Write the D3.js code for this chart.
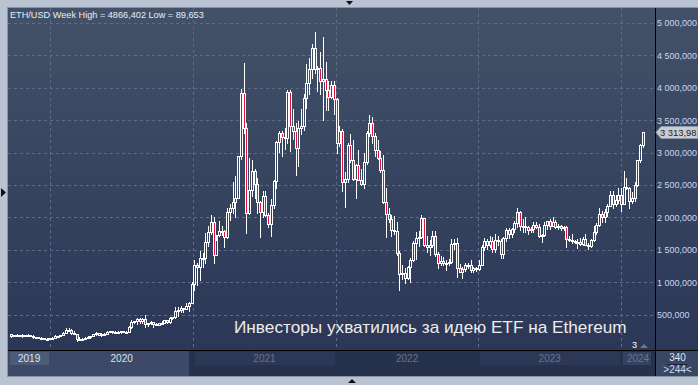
<!DOCTYPE html>
<html>
<head>
<meta charset="utf-8">
<script src="https://cdn.jsdelivr.net/npm/d3@7"></script>
<style>
html, body { margin: 0; padding: 0; background: #b9c3d1; overflow: hidden; }
svg { display: block; font-family: "Liberation Sans", Arial, sans-serif; }
</style>
</head>
<body>
<script>
// weekly candles, [open, high, low, close], week starting Monday 2019-09-23
const weeks2019 = [
    [201,202,152,166],[166,183,163,180],[180,199,177,186],[186,190,168,174],[174,199,158,182],
    [182,192,178,183],[183,194,180,188],[188,190,174,176],[176,178,142,151],[151,157,138,151],
    [151,152,143,145],[145,151,130,132],[132,134,116,127],[127,134,124,130],[130,146,125,143]
];
const weeks2020 = [
    [143,152,135,146],[146,180,143,167],[167,173,152,167],[167,192,165,189],[189,230,185,223],
    [223,288,220,265],[265,287,240,262],[262,278,208,218],[218,253,195,200],[200,201,90,123],
    [123,148,108,131],[131,144,124,131],[131,150,125,143],[143,175,140,158],[158,173,146,170],
    [170,198,166,197],[197,228,188,212],[212,216,182,188],[188,212,176,199],[199,215,194,207],
    [207,245,198,231],[231,252,224,244],[244,250,222,233],[233,243,225,228],[228,248,218,225],
    [225,245,222,240],[240,250,236,239],[239,245,230,236],[236,322,232,311],[311,415,300,385],
    [385,405,365,395],[395,445,355,433],[433,444,374,395],[395,440,375,435],[435,488,310,355],
    [355,378,330,365],[365,395,360,385],[385,385,310,354],[354,375,335,341],[341,378,337,367],
    [367,395,360,370],[370,420,365,409],[409,416,370,383],[383,470,373,454],[454,470,436,460],
    [460,612,449,550],[550,620,480,575],[575,636,546,597],[597,600,535,588],[588,673,583,640],
    [640,690,560,685],[685,1000,680,975]
];
const weeks2021 = [
    [975,1350,880,1260],[1260,1300,950,1230],[1230,1475,1030,1380],[1380,1450,1240,1375],
    [1375,1765,1300,1615],[1615,1875,1560,1780],[1780,2040,1740,1935],[1935,2000,1300,1420],
    [1420,1640,1420,1725],[1725,1950,1710,1790],[1790,1865,1730,1788],[1788,1800,1545,1690],
    [1690,2150,1680,2080],[2080,2200,1960,2140],[2140,2550,2070,2240],[2240,2645,2000,2300],
    [2300,2950,2300,2945],[2945,3980,2900,3920],[3920,4380,3300,3380],[3380,3450,1760,2070],
    [2070,2910,2050,2420],[2420,2890,2330,2710],[2710,2750,2300,2510],[2510,2610,2070,2245],
    [2245,2260,1700,2080],[2080,2400,2000,2325],[2325,2410,2020,2030],[2030,2070,1850,1895],
    [1895,2280,1720,2190],[2190,2580,2150,2560],[2560,3180,2450,3160],[3160,3330,3010,3310],
    [3310,3330,2950,3240],[3240,3375,3050,3225],[3225,3960,3150,3940],[3940,3970,3030,3410],
    [3410,3680,3210,3330],[3330,3460,2650,3065],[3065,3480,2800,3385],[3385,3670,3280,3410],
    [3410,3900,3350,3845],[3845,4375,3690,4080],[4080,4460,3900,4290],[4290,4670,4150,4620],
    [4620,4866,4230,4290],[4290,4340,3950,4300],[4300,4550,3900,4100],[4100,4780,3500,4130],
    [4130,4400,3650,3960],[3960,4100,3650,3860],[3860,4100,3850,4050],[4050,4100,3600,3830]
];
const weeks2022 = [
    [3830,3850,3000,3150],[3150,3410,3100,3330],[3330,3360,2400,2540],[2540,2700,2160,2600],
    [2600,3150,2550,3120],[3120,3280,2850,2880],[2880,3200,2580,2600],[2600,2830,2300,2810],
    [2810,3040,2570,2570],[2570,2740,2500,2520],[2520,3000,2460,2860],[2860,3330,2830,3300],
    [3300,3580,3250,3450],[3450,3550,3150,3260],[3260,3300,2950,3040],[3040,3190,2900,2920],
    [2920,3020,2700,2730],[2730,2960,2220,2230],[2230,2460,1700,2050],[2050,2150,1930,1970],
    [1970,2030,1720,1800],[1800,2020,1750,1790],[1790,1930,1420,1450],[1450,1475,880,1125],
    [1125,1260,1045,1140],[1140,1220,990,1070],[1070,1250,1050,1230],[1230,1370,1000,1350],
    [1350,1640,1330,1600],[1600,1780,1360,1680],[1680,1790,1560,1700],[1700,2030,1680,1985],
    [1985,1990,1560,1575],[1575,1720,1460,1550],[1550,1650,1420,1580],[1580,1790,1540,1720],
    [1720,1790,1410,1440],[1440,1460,1220,1290],[1290,1400,1260,1330],[1330,1390,1270,1300],
    [1300,1340,1190,1300],[1300,1360,1270,1310],[1310,1660,1300,1590],[1590,1670,1510,1600],
    [1600,1680,1080,1220],[1220,1280,1150,1165],[1165,1230,1070,1200],[1200,1300,1170,1260],
    [1260,1290,1220,1270],[1270,1350,1150,1190],[1190,1230,1160,1220],[1220,1230,1180,1200]
];
const weeks2023 = [
    [1200,1350,1190,1260],[1260,1580,1260,1550],[1550,1680,1500,1630],[1630,1660,1520,1570],
    [1570,1710,1550,1630],[1630,1700,1460,1510],[1510,1740,1460,1650],[1650,1720,1580,1640],
    [1640,1670,1370,1440],[1440,1690,1370,1680],[1680,1840,1630,1800],[1800,1830,1680,1750],
    [1750,1840,1700,1820],[1820,1950,1780,1910],[1910,2140,1850,2090],[2090,2100,1800,1870],
    [1870,1980,1780,1870],[1870,2000,1780,1850],[1850,1870,1740,1800],[1800,1850,1780,1820],
    [1820,1930,1770,1890],[1890,1930,1840,1850],[1850,1900,1700,1720],[1720,1750,1620,1730],
    [1730,1930,1710,1890],[1890,1950,1820,1940],[1940,1970,1820,1870],[1870,2010,1860,1930],
    [1930,1960,1840,1850],[1850,1900,1820,1860],[1860,1880,1810,1830],[1830,1870,1800,1850],
    [1850,1870,1550,1670],[1670,1710,1630,1650],[1650,1740,1610,1630],[1630,1650,1600,1620],
    [1620,1660,1530,1620],[1620,1680,1570,1590],[1590,1690,1570,1670],[1670,1750,1570,1580],
    [1580,1600,1520,1560],[1560,1670,1540,1650],[1650,1860,1640,1780],[1780,1910,1750,1890],
    [1890,2140,1870,2050],[2050,2100,1930,2010],[2010,2130,1930,2090],[2090,2200,2020,2180],
    [2180,2400,2180,2350],[2350,2400,2150,2200],[2200,2340,2170,2270],[2270,2450,2220,2350]
];
const weeks2024 = [
    [2350,2460,2100,2200],[2200,2720,2200,2470],[2470,2610,2440,2450],[2450,2470,2150,2250],
    [2250,2390,2220,2300],[2300,2540,2260,2500],[2500,2880,2490,2880],[2880,3130,2860,3110],
    [3110,3320,3080,3313.98]
];

const priceTicks = [500, 1000, 1500, 2000, 2500, 3000, 3500, 4000, 4500, 5000];
const yearLabels = ["2019", "2020", "2021", "2022", "2023", "2024"];
const titleText = "ETH/USD Week High = 4866,402 Low = 89,653";
const noteText = "Инвесторы ухватились за идею ETF на Ethereum";
const lastPrice = 3313.98;

const W = 698, H = 385;
const plot = { left: 8, right: 655, top: 8, bottom: 350 };
const bandBottom = 376;

const ohlc = [].concat(weeks2019, weeks2020, weeks2021, weeks2022, weeks2023, weeks2024);
const dates = d3.timeMonday.range(new Date(2019, 8, 23), new Date(2024, 2, 1));
const candles = ohlc.map((v, i) => ({ date: dates[i], o: v[0], h: v[1], l: v[2], c: v[3] }));

function priceFormat(v) {
    const parts = v.toFixed(3).split(".");
    return parts[0].replace(/\B(?=(\d{3})+(?!\d))/g, " ") + "," + parts[1];
}

// shrink or grow a text so it spans the width seen in the reference
function fitWidth(sel, width) {
    const size = parseFloat(sel.style("font-size"));
    const len = sel.node().getComputedTextLength();
    sel.style("font-size", (size * width / len).toFixed(2) + "px");
}

const x = d3.scaleTime()
    .domain([new Date(2019, 8, 15), new Date(2024, 2, 28)])
    .range([plot.left, plot.right]);
const y = d3.scaleLinear()
    .domain([0, 5000])
    .range([347, 23]);

const svg = d3.select("body").append("svg")
    .attr("width", W)
    .attr("height", H);

const defs = svg.append("defs");
const grad = defs.append("linearGradient")
    .attr("id", "bg")
    .attr("x1", 0).attr("y1", 0).attr("x2", 0).attr("y2", 1);
grad.append("stop").attr("offset", "0%").attr("stop-color", "#435168");
grad.append("stop").attr("offset", "100%").attr("stop-color", "#2b3756");

defs.append("clipPath").attr("id", "plotClip")
    .append("rect")
    .attr("x", plot.left).attr("y", plot.top)
    .attr("width", plot.right - plot.left).attr("height", plot.bottom - plot.top);

// frame
svg.append("rect").attr("width", W).attr("height", H).attr("fill", "#b9c3d1");
svg.append("rect")
    .attr("x", plot.left - 1).attr("y", plot.top - 1)
    .attr("width", W - plot.left + 1).attr("height", bandBottom - plot.top + 2)
    .attr("fill", "#8793a8");
svg.append("rect")
    .attr("x", plot.left).attr("y", plot.top)
    .attr("width", W - plot.left).attr("height", plot.bottom - plot.top)
    .attr("fill", "url(#bg)");

// grid
const yearStarts = d3.timeYear.range(new Date(2020, 0, 1), new Date(2024, 0, 2));
svg.append("g").selectAll("line")
    .data(priceTicks)
    .enter().append("line")
    .attr("x1", plot.left).attr("x2", plot.right)
    .attr("y1", d => Math.round(y(d)) + 0.5).attr("y2", d => Math.round(y(d)) + 0.5)
    .attr("stroke", "#5d6c88")
    .attr("stroke-dasharray", "3,3");
svg.append("g").selectAll("line")
    .data(yearStarts)
    .enter().append("line")
    .attr("x1", d => Math.round(x(d)) + 0.5).attr("x2", d => Math.round(x(d)) + 0.5)
    .attr("y1", plot.top).attr("y2", plot.bottom)
    .attr("stroke", "#5d6c88")
    .attr("stroke-dasharray", "3,3");

// candles
const candleG = svg.append("g").attr("clip-path", "url(#plotClip)");
candles.forEach(d => {
    const cx = Math.round(x(d.date));
    const top = Math.round(y(Math.max(d.o, d.c))) + 0.5;
    let bottom = Math.round(y(Math.min(d.o, d.c))) + 0.5;
    if (bottom - top < 1) bottom = top + 1;
    const down = d.c < d.o;
    const g = candleG.append("g");
    g.append("line")
        .attr("x1", cx + 0.5).attr("x2", cx + 0.5)
        .attr("y1", Math.round(y(d.h))).attr("y2", top)
        .attr("stroke", "#ffffff");
    g.append("line")
        .attr("x1", cx + 0.5).attr("x2", cx + 0.5)
        .attr("y1", bottom).attr("y2", Math.round(y(d.l)) + 1)
        .attr("stroke", "#ffffff");
    g.append("rect")
        .attr("x", cx - 0.5)
        .attr("y", top)
        .attr("width", 2)
        .attr("height", bottom - top)
        .attr("fill", down ? "#e3123a" : "none")
        .attr("stroke", "#ffffff")
        .attr("stroke-width", 1);
});

// right axis
svg.append("line")
    .attr("x1", plot.right + 0.5).attr("x2", plot.right + 0.5)
    .attr("y1", plot.top).attr("y2", bandBottom)
    .attr("stroke", "#000");

const yAxis = d3.axisRight(y).tickValues(priceTicks).tickFormat(priceFormat).tickSize(0).tickPadding(2);
const yAxisG = svg.append("g")
    .attr("transform", "translate(" + plot.right + ",0)")
    .call(yAxis);
yAxisG.select(".domain").remove();
yAxisG.selectAll("text")
    .attr("fill", "#c6d8f2")
    .style("font-size", "9px")
    .style("font-family", "'Liberation Sans', Arial, sans-serif");

// last price tag
const ly = Math.round(y(lastPrice)) + 0.5;
svg.append("path")
    .attr("d", "M" + (plot.right + 1) + "," + ly + " L" + (plot.right + 6) + "," + (ly - 6) +
        " L" + W + "," + (ly - 6) + " L" + W + "," + (ly + 6) + " L" + (plot.right + 6) + "," + (ly + 6) + " Z")
    .attr("fill", "#c8ccd3")
    .attr("stroke", "#8f98a8");
svg.append("text")
    .attr("x", plot.right + 5)
    .attr("y", ly + 3.5)
    .attr("fill", "#1d2330")
    .style("font-size", "9.4px")
    .text(priceFormat(lastPrice).slice(0, -1));

// time band
svg.append("line")
    .attr("x1", plot.left).attr("x2", W)
    .attr("y1", plot.bottom + 0.5).attr("y2", plot.bottom + 0.5)
    .attr("stroke", "#000");
svg.append("rect")
    .attr("x", plot.left).attr("y", plot.bottom + 1)
    .attr("width", plot.right - plot.left).attr("height", bandBottom - plot.bottom - 1)
    .attr("fill", "#26314b");
svg.append("rect")
    .attr("x", plot.left).attr("y", plot.bottom + 1)
    .attr("width", Math.round(x(yearStarts[1])) - 4 - plot.left).attr("height", bandBottom - plot.bottom - 1)
    .attr("fill", "#3d4a67");
svg.append("rect")
    .attr("x", plot.right + 1).attr("y", plot.bottom + 1)
    .attr("width", W - plot.right - 1).attr("height", bandBottom - plot.bottom - 1)
    .attr("fill", "#394763");

const yearEdges = [x.domain()[0]].concat(yearStarts, [x.domain()[1]]);
const bandBoxes = [
    { i: 0, fill: "#4c5b78" },
    { i: 2, fill: "#2c3855" },
    { i: 4, fill: "#2c3855" },
    { i: 5, fill: "#35425f" }
];
svg.append("g").selectAll("rect")
    .data(bandBoxes)
    .enter().append("rect")
    .attr("x", d => Math.round(x(yearEdges[d.i])) + 2)
    .attr("y", plot.bottom + 2)
    .attr("width", d => Math.min(Math.round(x(yearEdges[d.i + 1])), plot.right - 3) - Math.round(x(yearEdges[d.i])) - 3)
    .attr("height", 13)
    .attr("fill", d => d.fill);

svg.append("g").selectAll("text")
    .data(yearLabels)
    .enter().append("text")
    .attr("x", (d, i) => (x(yearEdges[i]) + Math.min(x(yearEdges[i + 1]), plot.right)) / 2)
    .attr("y", plot.bottom + 12)
    .attr("text-anchor", "middle")
    .attr("fill", (d, i) => i < 2 ? "#dce4ef" : "#67768f")
    .style("font-size", "10px")
    .text(d => d);

const countX = (plot.right + W) / 2 + 1;
svg.append("text")
    .attr("x", countX).attr("y", plot.bottom + 11)
    .attr("text-anchor", "middle").attr("fill", "#dbe6f5")
    .style("font-size", "10px").text("340");
svg.append("line")
    .attr("x1", countX - 10).attr("x2", countX + 10)
    .attr("y1", plot.bottom + 14.5).attr("y2", plot.bottom + 14.5)
    .attr("stroke", "#1c2438");
svg.append("text")
    .attr("x", countX).attr("y", plot.bottom + 23)
    .attr("text-anchor", "middle").attr("fill", "#cbdcf2")
    .style("font-size", "10px").text(">244<");

// texts
const title = svg.append("text")
    .attr("x", 10).attr("y", 18)
    .attr("fill", "#e8edf5")
    .style("font-size", "10px")
    .text(titleText);
fitWidth(title, 194);

const note = svg.append("text")
    .attr("x", 234).attr("y", 333)
    .attr("fill", "#ececee")
    .style("font-size", "16.5px")
    .text(noteText);
fitWidth(note, 393);

svg.append("text")
    .attr("x", 632).attr("y", 348)
    .attr("fill", "#ffffff")
    .style("font-size", "9px")
    .text("3");
svg.append("path")
    .attr("d", "M640,348 L644,344 L648,348 Z")
    .attr("fill", "#6a7893");

// frame arrows
svg.append("path").attr("d", "M346,1 L353,1 L349.5,5 Z").attr("fill", "#111");
svg.append("path").attr("d", "M348,383 L356,383 L352,379 Z").attr("fill", "#111");
svg.append("path").attr("d", "M1,188 L6,192.5 L1,197 Z").attr("fill", "#111");
</script>
</body>
</html>
